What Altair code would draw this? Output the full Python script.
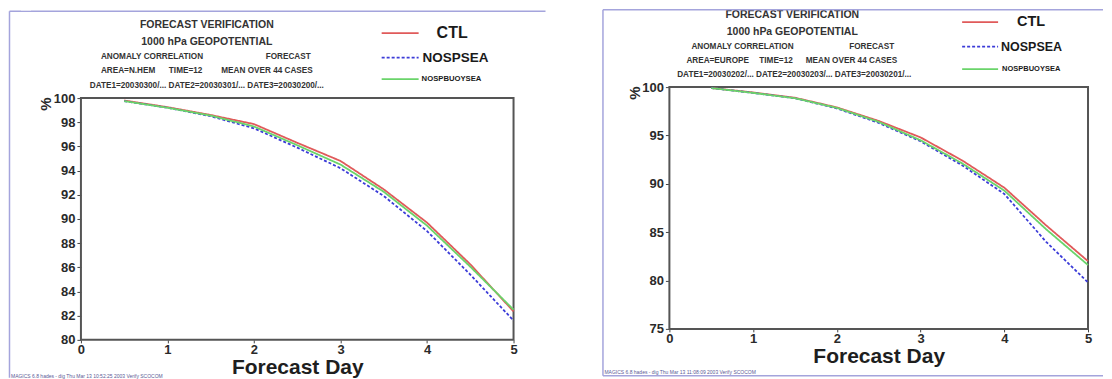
import altair as alt
import pandas as pd

# ---------------- data ----------------
days = [0.5, 1.0, 1.5, 2.0, 2.5, 3.0, 3.5, 4.0, 4.5, 5.0]
series = ["CTL", "NOSPSEA", "NOSPBUOYSEA"]

nh_ctl = [99.8, 99.25, 98.6, 97.85, 96.3, 94.8, 92.45, 89.7, 86.25, 82.35]
nh_nosp = [99.75, 99.2, 98.5, 97.5, 95.9, 94.2, 91.9, 89.0, 85.4, 81.6]
nh_buoy = [99.75, 99.2, 98.55, 97.65, 96.1, 94.5, 92.25, 89.45, 86.05, 82.5]

eu_ctl = [99.9, 99.45, 98.9, 97.9, 96.5, 94.8, 92.4, 89.6, 85.7, 82.0]
eu_nosp = [99.9, 99.4, 98.85, 97.8, 96.3, 94.4, 91.9, 88.95, 84.0, 79.8]
eu_buoy = [99.9, 99.4, 98.85, 97.85, 96.4, 94.5, 92.1, 89.3, 85.3, 81.6]

x_ticks = [0, 1, 2, 3, 4, 5]
nh_y_ticks = [80, 82, 84, 86, 88, 90, 92, 94, 96, 98, 100]
eu_y_ticks = [75, 80, 85, 90, 95, 100]

x_title = "Forecast Day"
y_title = "%"

nh_texts = ["FORECAST VERIFICATION", "1000 hPa GEOPOTENTIAL",
            "ANOMALY CORRELATION", "FORECAST",
            "AREA=N.HEM", "TIME=12", "MEAN OVER 44 CASES",
            "DATE1=20030300/... DATE2=20030301/... DATE3=20030200/..."]
eu_texts = ["FORECAST VERIFICATION", "1000 hPa GEOPOTENTIAL",
            "ANOMALY CORRELATION", "FORECAST",
            "AREA=EUROPE", "TIME=12", "MEAN OVER 44 CASES",
            "DATE1=20030202/... DATE2=20030203/... DATE3=20030201/..."]
nh_footer = "MAGICS 6.8 hades - dig Thu Mar 13 10:52:25 2003 Verify SCOCOM"
eu_footer = "MAGICS 6.8 hades - dig Thu Mar 13 11:08:09 2003 Verify SCOCOM"

FONT = "Liberation Sans"
ROW_Y = 97  # page y shared by the panels' view origins

# ---------------- layout (page pixel coords) ----------------
nh_text_layout = [(206, 23.5, "center", 10.5), (206, 41, "center", 10.5),
                  (100, 56, "left", 8.2), (310, 56, "right", 8.2),
                  (100, 70, "left", 8.2), (168, 70, "left", 8.2), (312, 70, "right", 8.2),
                  (206, 85, "center", 8.2)]
eu_text_layout = [(791, 13.5, "center", 10.5), (791, 31, "center", 10.5),
                  (690, 46, "left", 8.2), (893, 46, "right", 8.2),
                  (685, 60, "left", 8.2), (758, 60, "left", 8.2), (896, 60, "right", 8.2),
                  (793, 74, "center", 8.2)]

nh_panel = dict(left=80, width=433, top=97, bottom=339, ydom=[80, 100],
                yticks=nh_y_ticks, vals=[nh_ctl, nh_nosp, nh_buoy],
                colors=["#e05a5a", "#3c3cd8", "#6ad46a"],
                texts=nh_texts, text_layout=nh_text_layout,
                leg_x=(381, 418), leg_y=[32, 56.5, 78],
                leg_tx=[436, 422, 421], leg_fs=[16, 13.5, 7.7],
                pct=(45, 103), tick_fs=13,
                frame=[(8.5, 10, 8.5, 377), (8.5, 10, 545, 10)],
                ghost=[(20, 8.5, 30, 8.5)],
                footer=nh_footer, footer_pos=(10, 375))
eu_panel = dict(left=668, width=419, top=86, bottom=328, ydom=[75, 100],
                yticks=eu_y_ticks, vals=[eu_ctl, eu_nosp, eu_buoy],
                colors=["#a81818", "#4646b4", "#66dc66"],
                texts=eu_texts, text_layout=eu_text_layout,
                leg_x=(961, 997), leg_y=[21, 45.5, 68],
                leg_tx=[1016, 1000, 1001], leg_fs=[14.5, 12.5, 7.5],
                pct=(634, 92), tick_fs=13,
                frame=[(601.5, 8.5, 601.5, 375), (601.5, 8.5, 1102, 8.5),
                       (601.5, 375, 1102, 375)],
                ghost=[],
                footer=eu_footer, footer_pos=(603, 371))


def make_panel(p):
    ox, oy = p["left"], ROW_Y
    height = p["bottom"] - oy
    top_rel = p["top"] - oy
    rows = []
    for s, arr in zip(series, p["vals"]):
        for d, v in zip(days, arr):
            rows.append({"day": d, "value": v, "series": s})
    df = pd.DataFrame(rows)

    color = alt.Color("series:N", scale=alt.Scale(domain=series, range=p["colors"]), legend=None)
    dash = alt.StrokeDash("series:N", scale=alt.Scale(domain=series, range=[[1, 0], [3, 2], [1, 0]]),
                          legend=None)

    lines = alt.Chart(df).mark_line(strokeWidth=1.8).encode(
        x=alt.X("day:Q", scale=alt.Scale(domain=[0, 5], nice=False),
                axis=alt.Axis(values=x_ticks, title=x_title, format="d", domain=False, grid=False,
                              tickSize=3, tickColor="#444", labelPadding=1,
                              labelFont=FONT, labelFontWeight="bold", labelFontSize=p["tick_fs"],
                              labelColor="#2a2a2a", labelFlush=False,
                              titleFont=FONT, titleFontWeight="bold", titleFontSize=21,
                              titleColor="#1e1e1e", titleY=28, titleBaseline="middle")),
        y=alt.Y("value:Q", scale=alt.Scale(domain=p["ydom"], nice=False, zero=False,
                                           range=[height, top_rel]),
                axis=alt.Axis(values=p["yticks"], title=None, domain=False, grid=False,
                              tickSize=4, tickColor="#444", labelPadding=2,
                              labelFont=FONT, labelFontWeight="bold", labelFontSize=p["tick_fs"],
                              labelColor="#2a2a2a")),
        color=color,
        strokeDash=dash,
        order=alt.Order("day:Q"),
    )

    one = pd.DataFrame([{"k": 0}])
    border = alt.Chart(one).mark_rect(fillOpacity=0, stroke="#555555", strokeWidth=2).encode(
        x=alt.value(0), x2=alt.value(p["width"]), y=alt.value(top_rel), y2=alt.value(height))

    layers = [border, lines]
    for align in ["left", "center", "right"]:
        trs = [{"text": t, "px": x - ox, "py": y - oy, "size": fs}
               for t, (x, y, a, fs) in zip(p["texts"], p["text_layout"]) if a == align]
        if trs:
            layers.append(alt.Chart(pd.DataFrame(trs)).mark_text(
                font=FONT, fontWeight="bold", align=align, baseline="middle", color="#333333"
            ).encode(x=alt.X("px:Q", scale=None), y=alt.Y("py:Q", scale=None),
                     text="text:N", size=alt.Size("size:Q", scale=None)))

    # legend
    lx1, lx2 = p["leg_x"]
    lrows = [{"series": s, "x1": lx1 - ox, "x2": lx2 - ox, "y1": y - oy}
             for s, y in zip(series, p["leg_y"])]
    layers.append(alt.Chart(pd.DataFrame(lrows)).mark_rule(strokeWidth=1.6).encode(
        x=alt.X("x1:Q", scale=None), x2="x2:Q", y=alt.Y("y1:Q", scale=None),
        color=color, strokeDash=dash))
    ltr = [{"text": s, "px": x - ox, "py": y - oy, "size": fs}
           for s, x, y, fs in zip(series, p["leg_tx"], p["leg_y"], p["leg_fs"])]
    layers.append(alt.Chart(pd.DataFrame(ltr)).mark_text(
        font=FONT, fontWeight="bold", align="left", baseline="middle", color="#1a1a1a"
    ).encode(x=alt.X("px:Q", scale=None), y=alt.Y("py:Q", scale=None),
             text="text:N", size=alt.Size("size:Q", scale=None)))

    # % label
    layers.append(alt.Chart(pd.DataFrame([{"text": y_title, "px": p["pct"][0] - ox,
                                           "py": p["pct"][1] - oy}])).mark_text(
        font=FONT, fontWeight="bold", fontSize=15, angle=270, align="center", baseline="middle",
        color="#2a2a2a"
    ).encode(x=alt.X("px:Q", scale=None), y=alt.Y("py:Q", scale=None), text="text:N"))

    # footer
    layers.append(alt.Chart(pd.DataFrame([{"text": p["footer"], "px": p["footer_pos"][0] - ox,
                                           "py": p["footer_pos"][1] - oy}])).mark_text(
        font=FONT, fontSize=5, align="left", baseline="middle", color="#5a5a96"
    ).encode(x=alt.X("px:Q", scale=None), y=alt.Y("py:Q", scale=None), text="text:N"))

    # frame
    frows = [{"x1": a - ox, "y1": b - oy, "x2": c - ox, "y2": d - oy} for a, b, c, d in p["frame"]]
    layers.append(alt.Chart(pd.DataFrame(frows)).mark_rule(strokeWidth=1.5, color="#a4a4dc").encode(
        x=alt.X("x1:Q", scale=None), y=alt.Y("y1:Q", scale=None), x2="x2:Q", y2="y2:Q"))
    if p["ghost"]:
        grows = [{"x1": a - ox, "y1": b - oy, "x2": c - ox, "y2": d - oy} for a, b, c, d in p["ghost"]]
        layers.append(alt.Chart(pd.DataFrame(grows)).mark_rule(strokeWidth=1.5, color="#ffffff").encode(
            x=alt.X("x1:Q", scale=None), y=alt.Y("y1:Q", scale=None), x2="x2:Q", y2="y2:Q"))

    return alt.layer(*layers).properties(width=p["width"], height=height)


chart = alt.hconcat(make_panel(nh_panel), make_panel(eu_panel), spacing=55).properties(
    padding=0
).configure(background="white").configure_view(strokeWidth=0)

chart.save("out.html", embed_options={"renderer": "svg", "actions": False})
